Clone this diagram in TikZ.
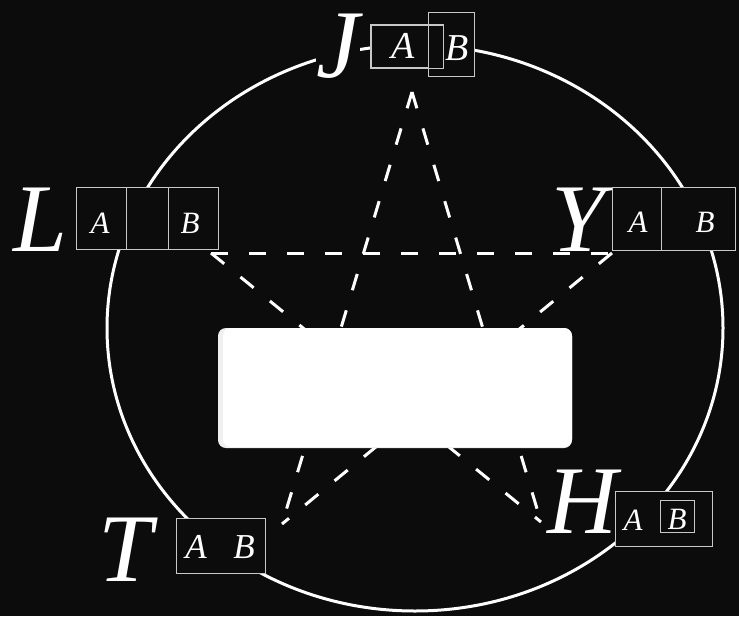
\documentclass[tikz,border=0pt]{standalone}
\usepackage{fontspec}
\setmainfont{Liberation Serif}
\definecolor{bg}{RGB}{12,12,12}
\definecolor{boxc}{RGB}{200,200,200}
\begin{document}
\begin{tikzpicture}[x=1pt,y=-1pt,
  bigl/.style={font=\fontsize{97}{97}\selectfont\itshape, text=white, fill=bg, inner sep=0pt, anchor=base},
  sml/.style={font=\fontsize{31}{31}\selectfont\itshape, text=white, inner sep=0pt, anchor=base},
  smlT/.style={sml, font=\fontsize{35}{35}\selectfont\itshape},
  smlJ/.style={sml, font=\fontsize{38}{38}\selectfont\itshape},
  cell/.style={draw=boxc, line width=1.2pt, fill=bg, inner sep=0pt, anchor=north west},
  starline/.style={white, line width=3pt, dash pattern=on 17pt off 21pt},
]
\fill[bg] (0,0) rectangle (739,616);
\useasboundingbox (0,0) rectangle (739,616);
% circle
\draw[white, line width=3pt] (415,328) ellipse [x radius=308pt, y radius=283pt];
% star points
\coordinate (pL) at (211,253);
\coordinate (pY) at (612,253);
\coordinate (pJ) at (412,92);
\coordinate (pT) at (282,524);
\coordinate (pH) at (541,522);
\draw[starline] (pL) -- (pY);
\draw[starline] (pJ) -- (pT);
\draw[starline] (pJ) -- (pH);
\draw[starline] (pL) -- (pH);
\draw[starline] (pY) -- (pT);
% central white panel
\node (ctrbase) [fill=gray!12, rounded corners=8pt, inner sep=0pt, minimum width=354pt, minimum height=120pt] at (395,388) {};
\node (ctr) [fill=white, rounded corners=8pt, inner sep=0pt, minimum width=349pt, minimum height=119pt] at (397.5,387.5) {};
% big letters
\node (J) [bigl] at (338,77) {J};
\node (L) [bigl] at (40,251) {L};
\node (Y) [bigl] at (578,251) {Y};
\node (T) [bigl] at (125,581) {T};
\node (H) [bigl] at (583,533) {H};
% L boxes
\node (LA) [cell, minimum width=50pt, minimum height=62pt] at (76,187) {};
\node (Lm) [cell, minimum width=42pt, minimum height=62pt] at (126,187) {};
\node (LB) [cell, minimum width=50pt, minimum height=62pt] at (168,187) {};
\node (LAt) [sml] at (100,233) {A};
\node (LBt) [sml] at (190,233) {B};
% Y boxes
\node (YA) [cell, minimum width=49pt, minimum height=63pt] at (612,187) {};
\node (YB) [cell, minimum width=74pt, minimum height=63pt] at (661,187) {};
\node (YAt) [sml] at (638,232) {A};
\node (YBt) [sml] at (705,232) {B};
% J boxes
\node (JA) [cell, minimum width=71pt, minimum height=42pt] at (371,25) {};
\node (JB) [cell, minimum width=46pt, minimum height=64pt] at (428,12) {};
\draw[boxc, line width=1.2pt] (JA.north west) rectangle (JA.south east);
\node (JAt) [smlJ] at (403,58) {A};
\node (JBt) [smlJ] at (457,60) {B};
% T box
\node (TB) [cell, minimum width=89pt, minimum height=55pt] at (176,518) {};
\node (TAt) [smlT] at (196,558) {A};
\node (TBt) [smlT] at (244,558) {B};
% H box
\node (HB) [cell, minimum width=97pt, minimum height=55pt] at (615,491) {};
\node (HBi) [cell, minimum width=34pt, minimum height=32pt] at (660,500) {};
\node (HAt) [sml] at (633,530) {A};
\node (HBt) [sml] at (677,529) {B};
\end{tikzpicture}
\end{document}
